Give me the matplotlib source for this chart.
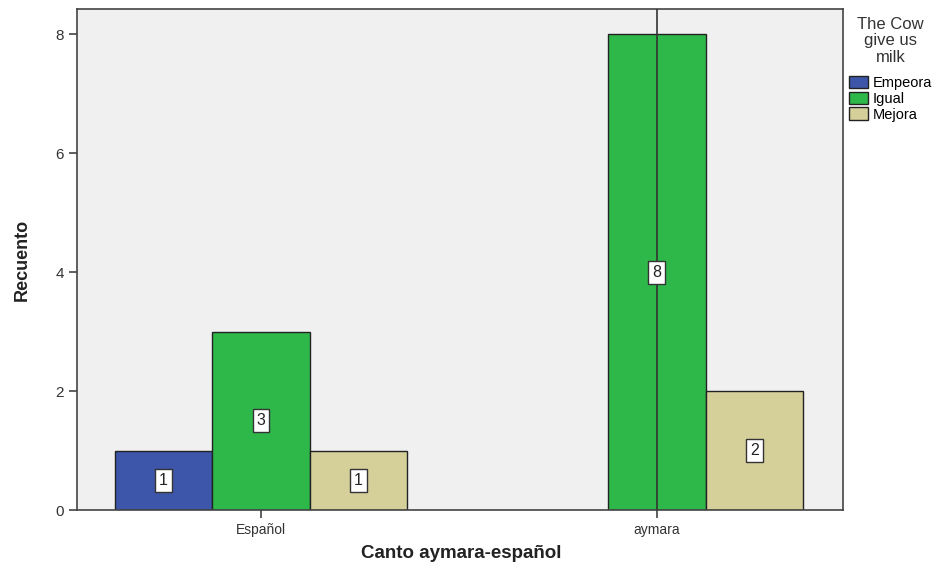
import matplotlib
matplotlib.use("Agg")
import matplotlib.pyplot as plt
from matplotlib.patches import Patch
import numpy as np

plt.rcParams['font.family'] = ['Liberation Sans', 'DejaVu Sans']

categories = ["Español", "aymara"]
series = ["Empeora", "Igual", "Mejora"]
counts = {
    "Empeora": [1, 0],
    "Igual": [3, 8],
    "Mejora": [1, 2],
}
colors = {"Empeora": "#3d56aa", "Igual": "#2fb84a", "Mejora": "#d5d09a"}
y_ticks = [0, 2, 4, 6, 8]

fig = plt.figure(figsize=(9.52, 5.66), dpi=100)
ax = fig.add_axes([0.0809, 0.0989, 0.8046, 0.8851])
ax.set_facecolor("#f0f0f0")

x = np.arange(len(categories))
width = 0.246
for i, name in enumerate(series):
    for j, v in enumerate(counts[name]):
        if v <= 0:
            continue
        xc = x[j] + (i - 1) * width
        ax.bar(xc, v, width=width, color=colors[name], edgecolor="#222222",
               linewidth=1.0, zorder=2)
        ax.text(xc, v / 2, str(v), ha="center", va="center", fontsize=11.5,
                color="#222222", zorder=4,
                bbox=dict(boxstyle="square,pad=0.25", fc="white", ec="#333333", lw=1.0))

# reference line through the second category
ax.axvline(x[1], color="#333333", lw=1.2, zorder=3)

ax.set_xlim(-0.4646, 1.47)
ax.set_ylim(0, 8.42)
ax.set_xticks(x)
ax.set_xticklabels(categories, fontsize=10, color="#333333")
ax.set_yticks(y_ticks)
ax.set_yticklabels([str(t) for t in y_ticks], fontsize=11, color="#333333")
ax.tick_params(axis="both", length=6, width=1.2, color="#444444")
for s in ax.spines.values():
    s.set_color("#444444")
    s.set_linewidth(1.2)

ax.set_ylabel("Recuento", fontsize=13, fontweight="bold", fontstretch="condensed",
              color="#222222", labelpad=18)
fig.text(461 / 952, 1 - 553 / 566, "Canto aymara-español", ha="center", va="center",
         fontsize=13.5, fontweight="bold", color="#222222")

handles = [Patch(facecolor=colors[n], edgecolor="#222222", lw=1.0) for n in series]
leg = fig.legend(handles, series, loc="upper left", bbox_to_anchor=(0.883, 0.985),
                 title="The Cow\ngive us\nmilk", fontsize=10.5, title_fontsize=12,
                 frameon=False, handlelength=1.3, handleheight=0.9,
                 handletextpad=0.3, labelspacing=0.12, borderaxespad=0.2)
leg.get_title().set_multialignment("center")
leg.get_title().set_color("#333333")
leg.get_title().set_linespacing(1.1)
leg._legend_box.sep = 8

fig.savefig("out.png", dpi=100, facecolor="white")
